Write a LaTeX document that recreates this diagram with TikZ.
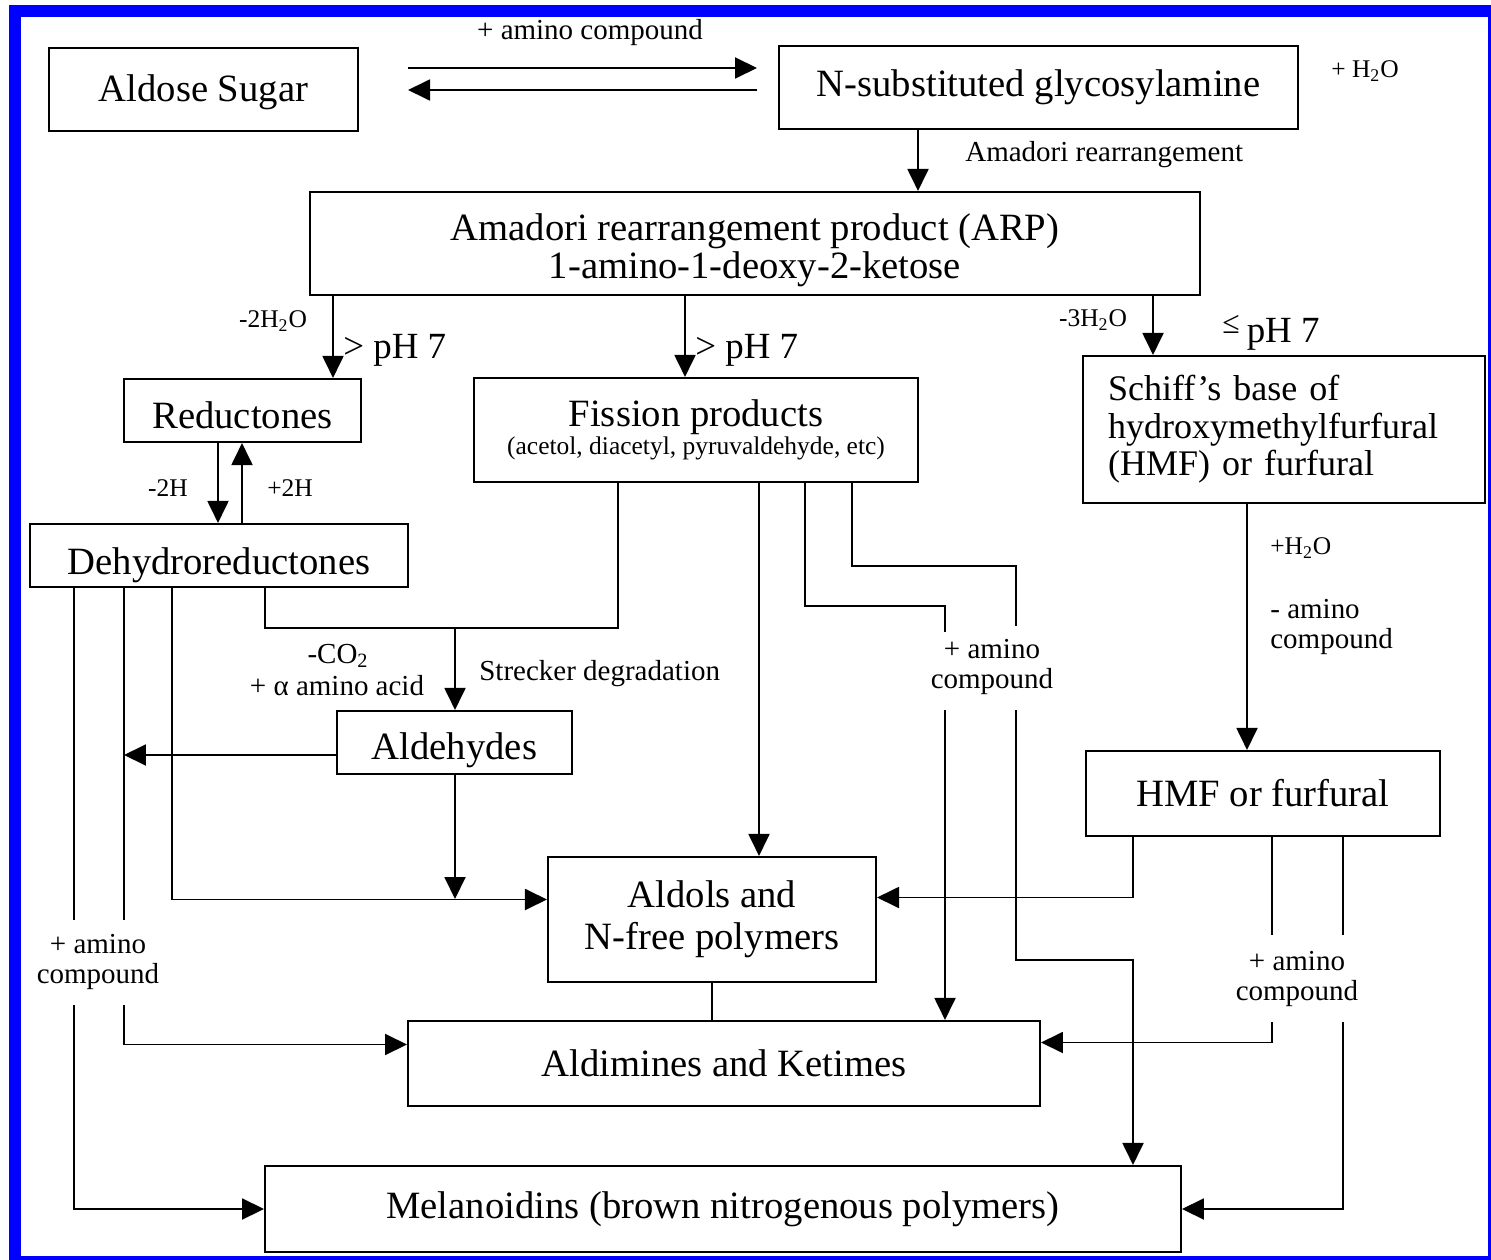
\documentclass[tikz,border=0pt]{standalone}
\usepackage{fontspec}
\setmainfont{Liberation Serif}
\usetikzlibrary{arrows.meta,calc}

% lower a box's text without changing its size
\newcommand{\sink}[2]{\raisebox{-#1}[\height][\depth]{#2}}

\tikzset{
  box/.style={draw, line width=1.2pt, inner sep=0pt, align=center,
    font=\fontsize{22}{21.5}\selectfont},
  arr/.style={line width=1.1pt, -{Triangle[length=0.44cm,width=0.42cm]}},
  link/.style={line width=1.1pt},
  lbl/.style={inner sep=0pt, align=center, font=\fontsize{16.5}{17}\selectfont},
  chem/.style={inner sep=0pt, font=\fontsize{14.5}{16}\selectfont},
  phlbl/.style={inner sep=0pt, anchor=west, font=\fontsize{21}{21}\selectfont},
}

\begin{document}
\begin{tikzpicture}[x=0.02cm, y=-0.02cm]
% frame
\useasboundingbox (0,0) rectangle (1491,1260);
\fill[blue] (9,5) rectangle (1491,1260);
\fill[white] (21,17) rectangle (1488,1256);

% lanes
\foreach \x in {74,124,172,218,242,265,333,455,618,685,759,805,852,918,945,1016,1133,1153,1247,1272,1343}
  \coordinate (x\x) at (\x,0);
\foreach \y in {566,606,626,628,632,710,899,920,935,960,1005,1022}
  \coordinate (y\y) at (0,\y);

% boxes
\node[box, minimum width=6.18cm, minimum height=1.66cm] (sugar) at (203.5,89.5) {\sink{1.5pt}{Aldose Sugar}};
\node[box, minimum width=10.38cm, minimum height=1.66cm] (glyco) at (1038.5,87.5) {N-substituted glycosylamine};
\node[box, minimum width=17.8cm, minimum height=2.06cm] (arp) at (755,243.5)
  {\sink{4.5pt}{\begin{tabular}{@{}c@{}}Amadori rearrangement product (ARP)\\1-amino-1-deoxy-2-ketose\end{tabular}}};
\node[box, minimum width=4.74cm, minimum height=1.26cm] (reduct) at (242.5,410.5) {\sink{3pt}{Reductones}};
\node[box, minimum width=8.88cm, minimum height=2.08cm] (fission) at (696,430)
  {Fission products\\[-5.5pt]{\fontsize{14.5}{16}\selectfont(acetol, diacetyl, pyruvaldehyde, etc)}};
\node[box, minimum width=8.04cm, minimum height=2.94cm, text width=7.04cm, align=left,
  font=\fontsize{20.5}{21.3}\selectfont] (schiff) at (1284,429.5)
  {Schiff’s base of\\hydroxymethylfurfural\\(HMF) or furfural};
\node[box, minimum width=7.56cm, minimum height=1.26cm] (dehydro) at (219,555.5) {\sink{5.5pt}{Dehydroreductones}};
\node[box, minimum width=4.7cm, minimum height=1.26cm] (aldehyde) at (454.5,742.5) {\sink{4.5pt}{Aldehydes}};
\node[box, minimum width=7.08cm, minimum height=1.7cm] (hmf) at (1263,793.5) {HMF or furfural};
\node[box, minimum width=6.56cm, minimum height=2.5cm] (aldols) at (712,919.5) {Aldols and\\[2.3pt]N-free polymers};
\node[box, minimum width=12.64cm, minimum height=1.7cm] (aldimine) at (724,1063.5) {Aldimines and Ketimes};
\node[box, minimum width=18.32cm, minimum height=1.72cm] (melano) at (723,1209) {Melanoidins (brown nitrogenous polymers)};

% labels
\node[lbl] (amTop) at (590,33) {+ amino compound};
\node[chem] (waterTop) at (1365,71) {+ H\textsubscript{2}O};
\node[lbl, anchor=west] (amadori) at (965,155) {Amadori rearrangement};
\node[chem] (minus2w) at (273,321) {-2H\textsubscript{2}O};
\node[phlbl] (phA) at (343,350) {> pH 7};
\node[phlbl] (phB) at (695,350) {> pH 7};
\node[chem] (minus3w) at (1093,320) {-3H\textsubscript{2}O};
\node[phlbl] (phC) at (1222,333) {\raisebox{5pt}{\fontsize{18}{18}\selectfont ≤}\hspace{4pt}pH 7};
\node[chem] (minus2h) at (168,488) {-2H};
\node[chem] (plus2h) at (290,488) {+2H};
\node[lbl] (co2) at (338,656) {-CO\textsubscript{2}};
\node[lbl] (aacid) at (337,686) {+ α amino acid};
\node[lbl, anchor=west] (strecker) at (479,674) {Strecker degradation};
\node[chem, anchor=west] (waterR) at (1270,548) {+H\textsubscript{2}O};
\node[lbl, anchor=west, align=left] (lessam) at (1270,627) {- amino\\compound};
\node[lbl] (amL) at (98,962) {+ amino\\compound};
\node[lbl] (amM) at (992,667) {+ amino\\compound};
\node[lbl] (amR) at (1297,979) {+ amino\\compound};

% top row
\draw[arr] ($(sugar.east)+(49,-21.5)$) -- ($(glyco.west)+(-21,-19.5)$);
\draw[arr] ($(glyco.west)+(-21,2.5)$) -- ($(sugar.east)+(49,0.5)$);
\draw[arr] (glyco.south -| x918) -- (arp.north -| x918);

% from ARP
\draw[arr] (arp.south -| x333) -- (reduct.north -| x333);
\draw[arr] (arp.south -| x685) -- (fission.north -| x685);
\draw[arr] (arp.south -| x1153) -- (schiff.north -| x1153);

% left side
\draw[arr] (reduct.south -| x218) -- (dehydro.north -| x218);
\draw[arr] (dehydro.north -| x242) -- (reduct.south -| x242);
\draw[link] (dehydro.south -| x265) |- (x455 |- y628) -| (fission.south -| x618);
\draw[arr] (x455 |- y628) -- (aldehyde.north -| x455);
\draw[arr] (aldehyde.west |- 0,755) -- (x124 |- 0,755);
\draw[arr] (aldehyde.south -| x455) -- (x455 |- y899);
\draw[arr] (dehydro.south -| x172) |- ($(aldols.west)+(0,-20)$);
\draw[link] (dehydro.south -| x124) -- (x124 |- y920);
\draw[arr] (x124 |- y1005) |- ($(aldimine.west)+(0,-19)$);
\draw[link] (dehydro.south -| x74) -- (x74 |- y920);
\draw[arr] (x74 |- y1005) |- (melano.west);

% middle
\draw[arr] (fission.south -| x759) -- (aldols.north -| x759);
\draw[link] (fission.south -| x805) |- (x945 |- y606) -- (x945 |- y632);
\draw[arr] (x945 |- y710) -- (aldimine.north -| x945);
\draw[link] (fission.south -| x852) |- (x1016 |- y566) -- (x1016 |- y626);
\draw[arr] (x1016 |- y710) -- (x1016 |- y960) -| (melano.north -| x1133);
\draw[link] (aldols.south) -- (aldimine.north -| aldols.south);

% right side
\draw[arr] (schiff.south -| x1247) -- (hmf.north -| x1247);
\draw[arr] (hmf.south -| x1133) |- ($(aldols.east)+(0,-22)$);
\draw[link] (hmf.south -| x1272) -- (x1272 |- y935);
\draw[arr] (x1272 |- y1022) |- ($(aldimine.east)+(0,-21)$);
\draw[link] (hmf.south -| x1343) -- (x1343 |- y935);
\draw[arr] (x1343 |- y1022) |- (melano.east);
\end{tikzpicture}
\end{document}
